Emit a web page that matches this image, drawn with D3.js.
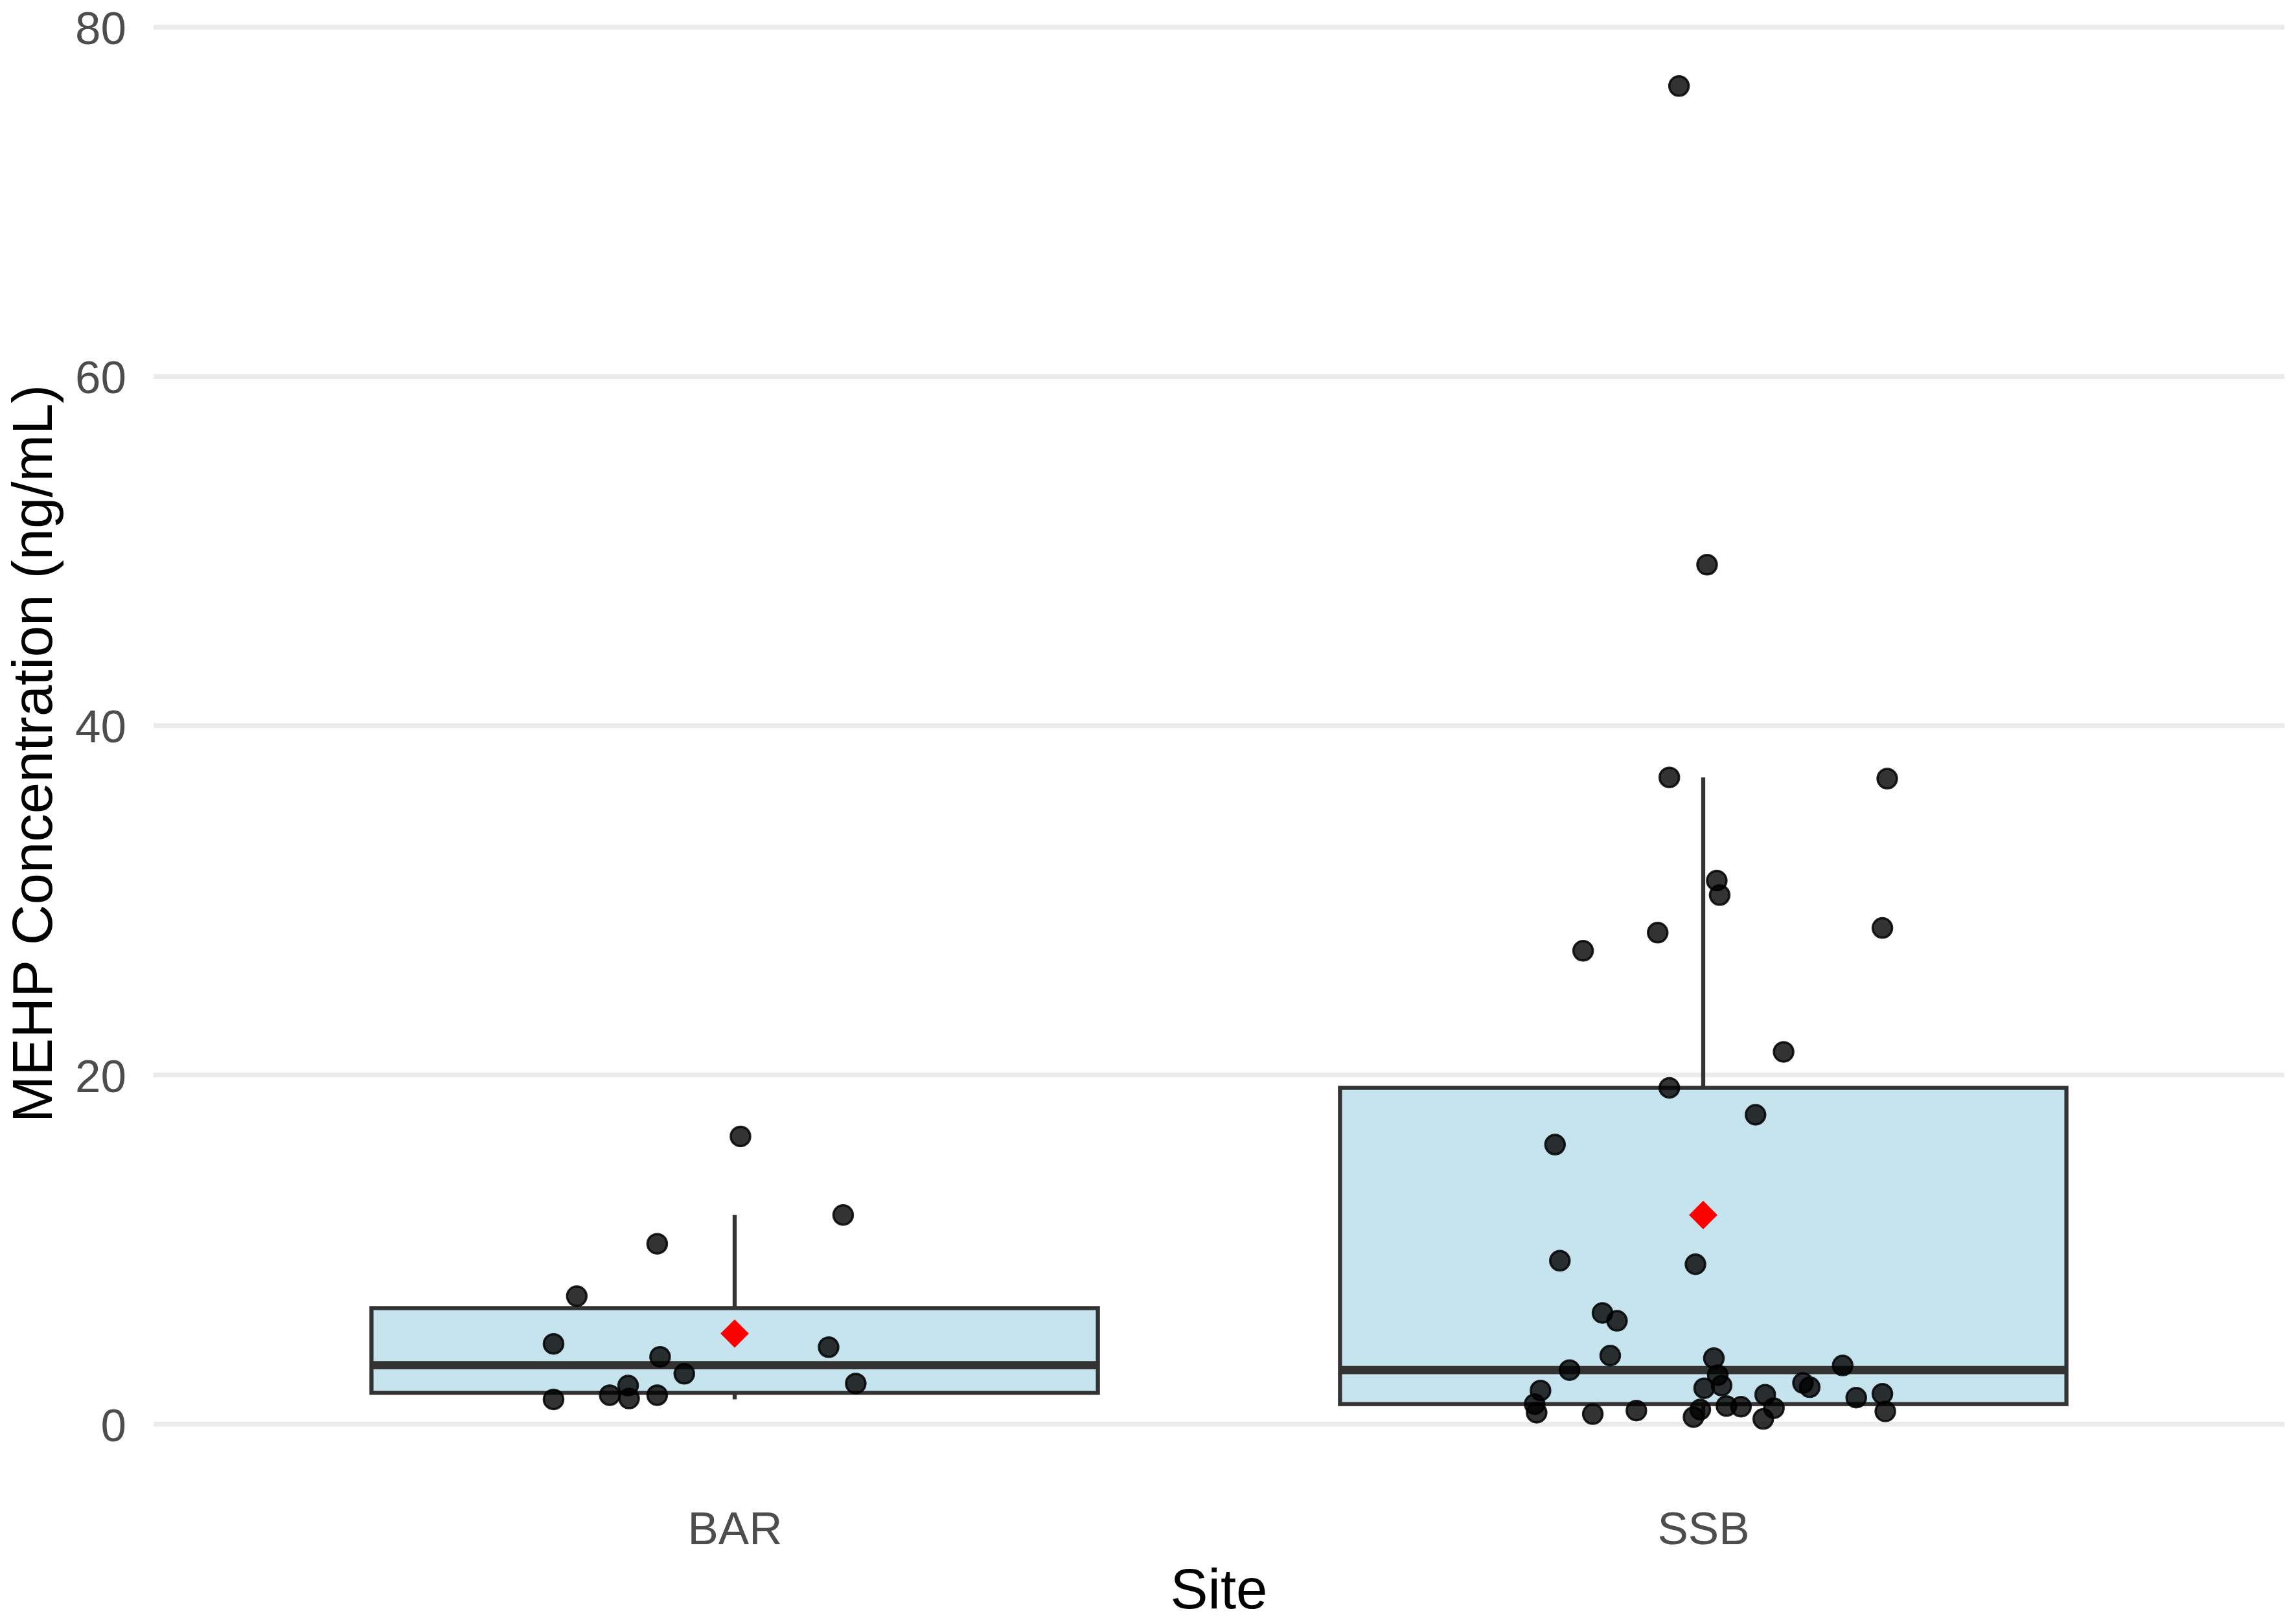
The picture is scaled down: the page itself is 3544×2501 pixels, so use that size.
<!DOCTYPE html>
<html>
<head>
<meta charset="utf-8">
<script src="https://cdn.jsdelivr.net/npm/d3@7"></script>
<style>
  html, body { margin: 0; padding: 0; background: #fff; }
  text { font-family: "Liberation Sans", Arial, Helvetica, sans-serif; }
</style>
</head>
<body>
<svg id="chart" width="3544" height="2501"></svg>
<script>
// data
const sites = ['BAR', 'SSB'];

const barValues = [16.48, 11.98, 10.33, 7.33, 4.60, 4.41, 3.86, 2.89, 2.33, 2.21, 1.66, 1.47, 1.66, 1.42];
// horizontal jitter, in category steps
const barJitter = [0.006, 0.112, -0.080, -0.163, -0.187, 0.097, -0.077, -0.052, 0.125, -0.110, -0.129, -0.109, -0.080, -0.187];

const ssbValues = [76.63, 49.22, 37.04, 36.97, 31.13, 30.30, 28.15, 27.11, 28.42, 21.32, 19.26, 17.72, 16.01,
  9.36, 9.16, 6.37, 5.92, 3.93, 3.10, 3.78, 2.81, 2.21, 2.06, 3.36, 2.36, 2.12, 1.93, 1.15, 0.66, 0.58,
  0.78, 0.84, 0.41, 1.04, 1.00, 1.69, 0.92, 0.30, 1.52, 1.74, 0.73];
const ssbJitter = [-0.025, 0.004, -0.035, 0.190, 0.014, 0.017, -0.047, -0.124, 0.185, 0.083, -0.035, 0.054, -0.153,
  -0.148, -0.008, -0.104, -0.089, -0.096, -0.138, 0.011, 0.015, 0.019, 0.001, 0.144, 0.103, 0.110, -0.168, -0.174, -0.172, -0.114,
  -0.069, -0.003, -0.010, 0.024, 0.039, 0.064, 0.073, 0.062, 0.158, 0.185, 0.188];

const yTicks = [0, 20, 40, 60, 80];

const groups = [
  { site: 'BAR', values: barValues, jitter: barJitter },
  { site: 'SSB', values: ssbValues, jitter: ssbJitter },
];

const W = 3544, H = 2501;
const panel = { left: 237, right: 3526 };

const svg = d3.select('#chart');
svg.append('rect').attr('width', W).attr('height', H).attr('fill', '#fff');

const x = d3.scalePoint()
  .domain(sites)
  .range([panel.left, panel.right])
  .padding(0.6);

const y = d3.scaleLinear()
  .domain([0, 80])
  .range([2198.7, 42]);

const step = x.step();
const boxHalf = step * 0.375;

// box statistics, same rule as ggplot (R type 7 quantiles, 1.5 IQR whiskers)
groups.forEach((g) => {
  const sorted = g.values.slice().sort(d3.ascending);
  const q1 = d3.quantile(sorted, 0.25),
        med = d3.quantile(sorted, 0.5),
        q3 = d3.quantile(sorted, 0.75),
        iqr = q3 - q1;
  g.q1 = q1;
  g.med = med;
  g.q3 = q3;
  g.lo = d3.min(sorted.filter((v) => v >= q1 - 1.5 * iqr));
  g.hi = d3.max(sorted.filter((v) => v <= q3 + 1.5 * iqr));
  g.mean = d3.mean(sorted);
});

// grid
svg.append('g')
  .selectAll('line')
  .data(yTicks)
  .enter().append('line')
  .attr('x1', panel.left)
  .attr('x2', panel.right)
  .attr('y1', (d) => y(d))
  .attr('y2', (d) => y(d))
  .attr('stroke', '#EBEBEB')
  .attr('stroke-width', 7.5);

// y axis labels
const yAxis = svg.append('g')
  .attr('transform', `translate(${panel.left - 42}, 0)`)
  .call(d3.axisLeft(y).tickValues(yTicks).tickSize(0).tickPadding(0));
yAxis.select('.domain').remove();
yAxis.selectAll('text')
  .attr('fill', '#4D4D4D')
  .attr('font-size', 71)
  .attr('font-family', '"Liberation Sans", Arial, sans-serif')
  .attr('dy', '0.36em');

// x axis labels
const xAxis = svg.append('g')
  .attr('transform', 'translate(0, 2384)')
  .call(d3.axisBottom(x).tickSize(0).tickPadding(0));
xAxis.select('.domain').remove();
xAxis.selectAll('text')
  .attr('fill', '#4D4D4D')
  .attr('font-size', 71)
  .attr('font-family', '"Liberation Sans", Arial, sans-serif')
  .attr('dy', 0);

// axis titles
svg.append('text')
  .attr('x', (panel.left + panel.right) / 2)
  .attr('y', 2483)
  .attr('text-anchor', 'middle')
  .attr('font-size', 87)
  .attr('fill', '#000')
  .text('Site');

svg.append('text')
  .attr('transform', `translate(80, ${y(38.4)}) rotate(-90)`)
  .attr('text-anchor', 'middle')
  .attr('font-size', 87)
  .attr('fill', '#000')
  .text('MEHP Concentration (ng/mL)');

// boxes
const box = svg.append('g')
  .selectAll('g')
  .data(groups)
  .enter().append('g');

box.append('line')
  .attr('x1', (d) => x(d.site))
  .attr('x2', (d) => x(d.site))
  .attr('y1', (d) => y(d.q3))
  .attr('y2', (d) => y(d.hi))
  .attr('stroke', '#333333')
  .attr('stroke-width', 6.3);

box.append('line')
  .attr('x1', (d) => x(d.site))
  .attr('x2', (d) => x(d.site))
  .attr('y1', (d) => y(d.q1))
  .attr('y2', (d) => y(d.lo))
  .attr('stroke', '#333333')
  .attr('stroke-width', 6.3);

box.append('rect')
  .attr('x', (d) => x(d.site) - boxHalf)
  .attr('width', boxHalf * 2)
  .attr('y', (d) => y(d.q3))
  .attr('height', (d) => y(d.q1) - y(d.q3))
  .attr('fill', '#C6E4EE')
  .attr('stroke', '#333333')
  .attr('stroke-width', 6.3);

box.append('line')
  .attr('x1', (d) => x(d.site) - boxHalf)
  .attr('x2', (d) => x(d.site) + boxHalf)
  .attr('y1', (d) => y(d.med))
  .attr('y2', (d) => y(d.med))
  .attr('stroke', '#333333')
  .attr('stroke-width', 12.8);

// jittered points
const points = groups.flatMap((g) => g.values.map((v, i) => ({ site: g.site, value: v, dx: g.jitter[i] })));

svg.append('g')
  .selectAll('circle')
  .data(points)
  .enter().append('circle')
  .attr('cx', (d) => x(d.site) + d.dx * step)
  .attr('cy', (d) => y(d.value))
  .attr('r', 15)
  .attr('fill', 'rgba(0,0,0,0.8)')
  .attr('stroke', '#000')
  .attr('stroke-opacity', 0.85)
  .attr('stroke-width', 3.5);

// means
const diamond = d3.symbol().type(d3.symbolSquare).size(31 * 31);
svg.append('g')
  .selectAll('path')
  .data(groups)
  .enter().append('path')
  .attr('d', diamond)
  .attr('transform', (d) => `translate(${x(d.site)}, ${y(d.mean)}) rotate(45)`)
  .attr('fill', '#FF0000');
</script>
</body>
</html>
